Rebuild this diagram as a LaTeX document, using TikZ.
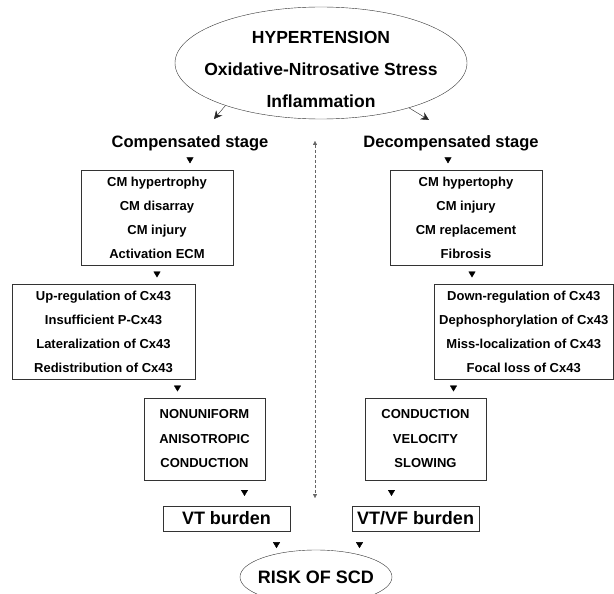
\documentclass[tikz,border=0pt]{standalone}
\usepackage{fontspec}
\setmainfont{Liberation Sans}
\usetikzlibrary{arrows.meta, positioning, shapes.geometric, decorations.markings, calc}

\begin{document}
\begin{tikzpicture}[
  x=1pt, y=-1pt,
  oval/.style={ellipse, draw=black!80, thin, inner sep=0pt},
  ovaltext/.style={align=center, font=\bfseries\fontsize{17.5}{32}\selectfont, inner sep=0pt},
  stage/.style={font=\bfseries\fontsize{16.5}{20}\selectfont, inner sep=0pt},
  stepbox/.style={rectangle, draw=black!80, thin, align=center, font=\bfseries\fontsize{13}{24}\selectfont, inner sep=0pt},
  burden/.style={rectangle, draw=black!80, thin, font=\bfseries\fontsize{18}{20}\selectfont, minimum width=127pt, minimum height=25pt, inner sep=0pt},
  headmark/.style={postaction={decorate}, decoration={markings, mark=at position #1 with {\arrow[xshift=3pt]{Triangle[length=6pt, width=7pt]}}}},
  headmark/.default=0.5,
  arrow/.style={-{Stealth[length=8pt, width=8pt]}, thin, black!85},
  divider/.style={{Triangle[length=4pt, width=4pt]}-{Triangle[length=4pt, width=4pt]}, densely dashed, black!60, thin}
]
  \useasboundingbox (0,0) rectangle (614,594);

  % Top cause and the two stages
  \node[oval, minimum width=292pt, minimum height=112pt] (hyper) at (321,63) {};
  \node[ovaltext] (hypertext) at (321,69) {HYPERTENSION\\Oxidative-Nitrosative Stress\\Inflammation};
  \node[stage] (cstage) at (190,143) {Compensated stage};
  \node[stage] (dstage) at (451,143) {Decompensated stage};

  % Compensated branch
  \node[stepbox, minimum width=152pt, minimum height=95pt] (comp1) at (157,217.5) {CM hypertrophy\\CM disarray\\CM injury\\Activation ECM};
  \node[stepbox, minimum width=183pt, minimum height=95pt] (comp2) at (103.5,331.5) {Up-regulation of Cx43\\Insufficient P-Cx43\\Lateralization of Cx43\\Redistribution of Cx43};
  \node[stepbox, minimum width=121pt, minimum height=82pt, font=\bfseries\fontsize{13}{24.5}\selectfont] (comp3) at (204.5,439) {NONUNIFORM\\ANISOTROPIC\\CONDUCTION};
  \node[burden] (vt) at (226.5,518.5) {VT burden};

  % Decompensated branch
  \node[stepbox, minimum width=152pt, minimum height=95pt] (decomp1) at (466,217.5) {CM hypertophy\\CM injury\\CM replacement\\Fibrosis};
  \node[stepbox, minimum width=179.5pt, minimum height=95pt] (decomp2) at (523.75,331.5) {Down-regulation of Cx43\\Dephosphorylation of Cx43\\Miss-localization of Cx43\\Focal loss of Cx43};
  \node[stepbox, minimum width=121pt, minimum height=82pt, font=\bfseries\fontsize{13}{24.5}\selectfont] (decomp3) at (425.5,439) {CONDUCTION\\VELOCITY\\SLOWING};
  \node[burden] (vtvf) at (415.5,518.5) {VT/VF burden};

  % Outcome
  \node[oval, minimum width=152pt, minimum height=54pt] (scd) at (316,577) {};
  \node[font=\bfseries\fontsize{18}{20}\selectfont, inner sep=0pt] (scdtext) at (316,577) {RISK OF SCD};

  % Arrows out of the top ellipse and the dashed divider
  \coordinate (cl) at (214,119);
  \coordinate (cr) at (429,120);
  \draw[arrow] (hyper.204.5) -- (cl);
  \draw[arrow] (hyper.333.5) -- (cr);
  \coordinate (dtop) at (315,141);
  \coordinate (dbot) at (315,498);
  \draw[divider] (dtop) -- (dbot);

  % Small heads between the steps
  \path[headmark] (cstage.south) -- (cstage.south |- comp1.north);
  \path[headmark] (comp1.south) -- (comp1.south |- comp2.north);
  \path[headmark] ([xshift=-27pt]comp3.north |- comp2.south) -- ([xshift=-27pt]comp3.north);
  \path[headmark] ([xshift=40pt]comp3.south) -- ([xshift=40pt]comp3.south |- vt.north);
  \path[headmark=0.75] ([xshift=50pt]vt.south) -- ([xshift=50pt]vt.south |- scd.north);

  \path[headmark] ([xshift=-3pt]dstage.south) -- ([xshift=-3pt]dstage.south |- decomp1.north);
  \path[headmark] ([xshift=6pt]decomp1.south) -- ([xshift=6pt]decomp1.south |- decomp2.north);
  \path[headmark] ([xshift=28pt]decomp3.north |- decomp2.south) -- ([xshift=28pt]decomp3.north);
  \path[headmark] ([xshift=-34pt]decomp3.south) -- ([xshift=-34pt]decomp3.south |- vtvf.north);
  \path[headmark=0.75] ([xshift=-56pt]vtvf.south) -- ([xshift=-56pt]vtvf.south |- scd.north);

\end{tikzpicture}
\end{document}
